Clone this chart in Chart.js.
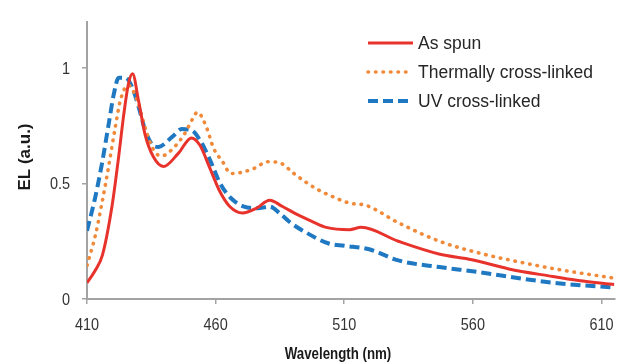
<!DOCTYPE html>
<html>
<head>
<meta charset="utf-8">
<script src="https://cdn.jsdelivr.net/npm/chart.js@4/dist/chart.umd.min.js"></script>
<style>
  html, body { margin: 0; padding: 0; background: #ffffff; }
  #wrap { width: 617px; height: 363px; position: relative; }
</style>
</head>
<body>
<div id="wrap"><canvas id="c"></canvas></div>
<script>
// ---- Data ----
const seriesNames = ["As spun", "Thermally cross-linked", "UV cross-linked"];

const asSpunWl = [410, 413, 416, 419.7, 422.3, 424.2, 426.1, 427.7, 430, 432.6, 435.8, 439.7, 445.5, 450.6, 453.9, 457.8, 461.6, 465.5, 470.5, 475.9, 481, 486, 491.4, 497.6, 503, 512, 516.6, 531, 546.8, 559.6, 574, 589.5, 601, 615];
const asSpunEl = [0.07, 0.12, 0.19, 0.40, 0.615, 0.79, 0.93, 0.974, 0.86, 0.71, 0.615, 0.573, 0.63, 0.697, 0.665, 0.565, 0.466, 0.40, 0.372, 0.393, 0.427, 0.40, 0.367, 0.335, 0.31, 0.30, 0.31, 0.25, 0.195, 0.17, 0.13, 0.10, 0.08, 0.063];

const thermalWl = [410, 413.2, 415.8, 418.4, 421, 423, 426, 429.5, 432.2, 434.8, 436.8, 439.3, 444, 447.9, 451, 452.9, 456.2, 459.3, 462.7, 465.9, 469.8, 474.9, 480.4, 485.4, 490.4, 495.8, 500.9, 504, 512, 518.5, 531, 547, 562, 578, 593, 615];
const thermalEl = [0.145, 0.273, 0.414, 0.573, 0.744, 0.86, 0.925, 0.86, 0.755, 0.67, 0.63, 0.62, 0.658, 0.714, 0.778, 0.808, 0.75, 0.65, 0.594, 0.543, 0.547, 0.565, 0.594, 0.587, 0.543, 0.50, 0.466, 0.45, 0.415, 0.405, 0.33, 0.25, 0.20, 0.16, 0.128, 0.09];

const uvWl = [410, 413.2, 415.8, 418.4, 420.4, 422.3, 425, 427.6, 430.1, 432.6, 435.2, 437.8, 443, 446.8, 450.6, 454.3, 458.1, 462, 465.9, 471, 476.5, 481, 485.3, 489.1, 494, 504, 510, 519.7, 531, 547, 562, 578, 593, 615];
const uvEl = [0.295, 0.44, 0.585, 0.755, 0.885, 0.957, 0.957, 0.915, 0.83, 0.73, 0.67, 0.658, 0.70, 0.735, 0.73, 0.68, 0.594, 0.495, 0.437, 0.40, 0.393, 0.40, 0.367, 0.33, 0.295, 0.24, 0.23, 0.215, 0.167, 0.138, 0.117, 0.09, 0.068, 0.05];

const xTicks = [410, 460, 510, 560, 610];
const yTicks = [0, 0.5, 1];
const xTitle = "Wavelength (nm)";
const yTitle = "EL (a.u.)";

// ---- Build ----
const toXY = (xs, ys) => xs.map((x, i) => ({ x: x, y: ys[i] }));
const AXIS = "#a3a3a3";
const FONT = "'Liberation Sans', Arial, sans-serif";

function squishText(ctx, text, x, y, sx, align) {
  ctx.save();
  ctx.translate(x, y);
  ctx.scale(sx, 1);
  ctx.textAlign = align;
  ctx.fillText(text, 0, 0);
  ctx.restore();
}

const textLayer = {
  id: "textLayer",
  afterDraw(chart) {
    const ctx = chart.ctx;
    const a = chart.chartArea;
    const xs = chart.scales.x, ys = chart.scales.y;

    // tick labels (narrow-looking, as in the reference)
    ctx.save();
    ctx.fillStyle = "#333333";
    ctx.font = "17px " + FONT;
    ctx.textBaseline = "middle";
    xTicks.forEach(v => squishText(ctx, String(v), xs.getPixelForValue(v), a.bottom + 26, 0.85, "center"));
    yTicks.forEach(v => squishText(ctx, String(v), 70, ys.getPixelForValue(v) + 1, 0.85, "right"));
    ctx.restore();

    // axis titles
    ctx.save();
    ctx.fillStyle = "#1a1a1a";
    ctx.textBaseline = "middle";
    ctx.font = "bold 16px " + FONT;
    squishText(ctx, xTitle, 338, 355, 0.83, "center");
    ctx.font = "bold 17px " + FONT;
    ctx.translate(25, 157);
    ctx.rotate(-Math.PI / 2);
    ctx.textAlign = "center";
    ctx.fillText(yTitle, 0, 0);
    ctx.restore();

    // legend
    ctx.save();
    const rows = [43, 72, 101];
    chart.data.datasets.forEach((ds, i) => {
      const y = rows[i];
      ctx.beginPath();
      ctx.strokeStyle = ds.borderColor;
      ctx.lineWidth = ds.borderWidth;
      ctx.lineCap = ds.borderCapStyle || "butt";
      ctx.setLineDash(ds.borderDash || []);
      ctx.moveTo(368, y);
      ctx.lineTo(413, y);
      ctx.stroke();
      ctx.setLineDash([]);
      ctx.fillStyle = "#262626";
      ctx.font = "17.5px " + FONT;
      ctx.textAlign = "left";
      ctx.textBaseline = "middle";
      ctx.fillText(ds.label, 418, y + 1);
    });
    ctx.restore();
  }
};

new Chart(document.getElementById("c"), {
  type: "line",
  data: {
    datasets: [
      { label: seriesNames[0], data: toXY(asSpunWl, asSpunEl), borderColor: "#e8332d", borderWidth: 3, pointRadius: 0, cubicInterpolationMode: "monotone", fill: false },
      { label: seriesNames[1], data: toXY(thermalWl, thermalEl), borderColor: "#f08a3a", borderWidth: 3.6, borderDash: [0.5, 7], borderCapStyle: "round", pointRadius: 0, cubicInterpolationMode: "monotone", fill: false },
      { label: seriesNames[2], data: toXY(uvWl, uvEl), borderColor: "#1f78c2", borderWidth: 4, borderDash: [10, 5], pointRadius: 0, cubicInterpolationMode: "monotone", fill: false }
    ]
  },
  options: {
    responsive: true,
    maintainAspectRatio: false,
    animation: false,
    layout: { padding: { top: 18, right: 0, bottom: 0, left: 0 } },
    plugins: { legend: { display: false }, tooltip: { enabled: false } },
    scales: {
      x: {
        type: "linear",
        min: 410,
        max: 615,
        afterBuildTicks: s => { s.ticks = xTicks.map(v => ({ value: v })); },
        afterFit: s => { s.height = 64; },
        ticks: { color: "rgba(0,0,0,0)", font: { size: 15, family: FONT }, padding: 3, maxRotation: 0 },
        grid: { display: true, drawOnChartArea: false, drawTicks: true, tickLength: 5, color: AXIS, lineWidth: 1.5 },
        border: { display: true, color: AXIS, width: 2 }
      },
      y: {
        type: "linear",
        min: 0,
        max: 1.2,
        afterBuildTicks: s => { s.ticks = yTicks.map(v => ({ value: v })); },
        afterFit: s => { s.width = 87; },
        ticks: { color: "rgba(0,0,0,0)", font: { size: 16, family: FONT }, padding: 12, callback: v => String(v) },
        grid: { display: true, drawOnChartArea: false, drawTicks: true, tickLength: 5, color: AXIS, lineWidth: 1.5 },
        border: { display: true, color: AXIS, width: 2 }
      }
    }
  },
  plugins: [textLayer]
});
</script>
</body>
</html>
